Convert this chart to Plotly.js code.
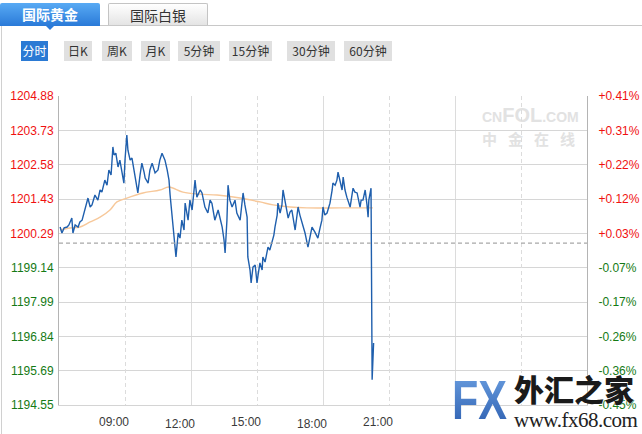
<!DOCTYPE html>
<html><head><meta charset="utf-8">
<script src="https://cdn.plot.ly/plotly-3.0.1.min.js"></script>
<style>
html,body{margin:0;padding:0;background:#fff;}
body{width:642px;height:434px;overflow:hidden;position:relative;font-family:"Noto Sans CJK SC","Liberation Sans",sans-serif;}
#chart{position:absolute;left:0;top:0;width:642px;height:434px;z-index:1;}
.abs{position:absolute;}
#tabline{left:0;top:25px;width:642px;height:1px;background:#c8c8c8;z-index:3;}
#leftborder{left:1px;top:25px;width:1px;height:409px;background:#d0d0d0;z-index:3;}
#tab1{left:0;top:3px;width:100px;height:23px;background:linear-gradient(#58aaf4,#2a7ad8);color:#fff;font-weight:bold;font-size:14px;line-height:22px;text-align:center;border-radius:2px 2px 0 0;z-index:4;}
#tab1arrow{left:46px;top:26px;width:0;height:0;border-left:4px solid transparent;border-right:4px solid transparent;border-top:4px solid #2a7ad8;z-index:4;}
#tab2{left:108px;top:3px;width:98px;height:21px;background:linear-gradient(#ffffff,#e4e4e4);border:1px solid #c4c4c4;border-bottom:none;color:#333;font-size:14px;line-height:22px;text-align:center;border-radius:2px 2px 0 0;z-index:4;}
.btn{top:41px;height:20px;line-height:20px;font-size:12px;text-align:center;background:#e0e0e0;color:#333;z-index:4;}
.btn.on{background:#2b7ad4;color:#fff;}
#wm1{left:482px;top:104px;color:#e2e2e2;font-family:"Liberation Sans",sans-serif;font-weight:bold;white-space:nowrap;z-index:0;}
#wm2{left:482px;top:128px;color:#e2e2e2;font-weight:bold;font-size:15px;letter-spacing:11px;white-space:nowrap;z-index:0;}
#fx{left:452px;top:372px;font-family:"Liberation Sans",sans-serif;font-weight:bold;font-size:56px;line-height:56px;transform:scaleX(0.77);transform-origin:0 0;background:linear-gradient(#6a9ee0,#2d5fb0);-webkit-background-clip:text;background-clip:text;color:transparent;z-index:5;white-space:nowrap;}
#hj{left:514px;top:373px;font-size:30px;line-height:30px;font-weight:900;color:#1a1a1a;z-index:5;white-space:nowrap;text-shadow:0 0 2px #fff;}
#www{left:514px;top:410px;font-family:"Liberation Serif",serif;font-size:21px;line-height:21px;letter-spacing:-0.5px;color:#222;z-index:5;white-space:nowrap;text-shadow:0 0 2px #fff;}
</style></head>
<body>
<div id="wm1" class="abs"><span style="font-size:14px">CN</span><span style="font-size:20px">FOL</span><span style="font-size:14px">.COM</span></div>
<div id="wm2" class="abs">中金在线</div>
<div id="chart"></div>
<div id="tabline" class="abs"></div>
<div id="leftborder" class="abs"></div>
<div id="tab1" class="abs">国际黄金</div>
<div id="tab1arrow" class="abs"></div>
<div id="tab2" class="abs">国际白银</div>
<div class="abs btn on" style="left:21px;width:27px">分时</div>
<div class="abs btn" style="left:64px;width:28px">日K</div>
<div class="abs btn" style="left:102px;width:30px">周K</div>
<div class="abs btn" style="left:141px;width:29px">月K</div>
<div class="abs btn" style="left:178px;width:42px">5分钟</div>
<div class="abs btn" style="left:229px;width:43px">15分钟</div>
<div class="abs btn" style="left:287px;width:48px">30分钟</div>
<div class="abs btn" style="left:344px;width:48px">60分钟</div>
<div id="fx" class="abs">FX</div>
<div id="hj" class="abs">外汇之家</div>
<div id="www" class="abs">www.fx68.com</div>
<script>
// ---- data ----
const times = ['06:03','06:08','06:14','06:22','06:27','06:35','06:38','06:44','06:52','06:57',
'07:03','07:11','07:19','07:25','07:30','07:38','07:46','07:52','07:57','08:05','08:11','08:16','08:22','08:27','08:30','08:35','08:41','08:46','08:52','08:57',
'09:00','09:05','09:08','09:14','09:19','09:22','09:27','09:33','09:35','09:41','09:46','09:52','09:55',
'10:03','10:08','10:14','10:22','10:30','10:35','10:41','10:46','10:49','10:55',
'11:00','11:03','11:08','11:14','11:19','11:22','11:25','11:30','11:35','11:41','11:44','11:52','11:57',
'12:03','12:11','12:16','12:25','12:30','12:38','12:46','12:52','12:57',
'13:05','13:14','13:19','13:25','13:30','13:33','13:38','13:41','13:46','13:52',
'14:00','14:05','14:14','14:22','14:27','14:33','14:35','14:41','14:44','14:49','14:55',
'15:00','15:03','15:08','15:14','15:16','15:22','15:27','15:30','15:35','15:41','15:46','15:49','15:55','15:57',
'16:03','16:08','16:11','16:16','16:25','16:30','16:35','16:44','16:52','16:57',
'17:03','17:11','17:19','17:25','17:30','17:38','17:46','17:52','17:57',
'18:00','18:05','18:11','18:19','18:25','18:27','18:33','18:38','18:41','18:46','18:52','18:55',
'19:00','19:05','19:14','19:19','19:22','19:27','19:33','19:41','19:44','19:49','19:55',
'20:00','20:03','20:05','20:11','20:14','20:16','20:18'];
const prices = [1200.50,1200.30,1200.47,1200.50,1200.57,1200.80,1200.30,1200.57,1200.50,1200.67,
1200.73,1201.07,1201.47,1201.17,1201.24,1201.57,1201.40,1201.74,1201.67,1202.07,1201.90,1202.41,1202.24,1203.18,1202.91,1202.97,1202.51,1202.74,1202.31,1201.97,
1202.74,1203.58,1203.07,1202.74,1202.81,1202.57,1202.24,1201.84,1201.64,1202.24,1202.64,1202.34,1202.14,
1201.97,1202.41,1202.64,1202.31,1202.41,1202.74,1202.97,1202.81,1202.74,1202.41,
1202.07,1201.57,1200.83,1199.97,1199.50,1199.90,1200.30,1200.13,1200.73,1200.40,1201.30,1200.73,1201.40,
1201.07,1202.07,1201.50,1201.74,1201.64,1201.17,1200.97,1201.40,1201.30,
1200.73,1201.07,1200.80,1200.50,1200.07,1199.63,1200.73,1201.90,1201.40,1201.17,
1201.40,1200.97,1200.73,1201.64,1201.24,1200.83,1199.50,1199.06,1198.63,1199.16,1199.23,
1198.63,1198.90,1199.30,1199.06,1199.50,1199.33,1199.63,1199.83,1199.73,1200.00,1200.23,1200.50,1200.90,1201.30,
1200.97,1201.24,1201.74,1201.40,1200.80,1201.00,1201.07,1200.40,1201.17,1200.90,
1200.63,1200.30,1199.83,1200.23,1200.50,1200.33,1200.13,1200.47,1200.73,
1201.17,1200.90,1200.97,1201.30,1201.74,1201.97,1201.90,1202.07,1202.34,1202.07,1201.74,1202.17,
1201.74,1201.50,1201.17,1201.57,1201.80,1201.67,1201.64,1201.17,1201.40,1201.40,1201.74,
1201.24,1200.83,1201.40,1201.80,1195.39,1196.15,1196.62];
const avgTimes = ['06:03','06:30','06:57','07:25','07:52','08:19','08:38','09:05','09:49','10:35','11:00','11:38','12:25','13:11','14:14','15:08','15:44','16:30','17:16','18:46','20:16'];
const avgValues = [1200.40,1200.47,1200.50,1200.67,1200.83,1201.07,1201.34,1201.47,1201.64,1201.74,1201.84,1201.67,1201.60,1201.57,1201.47,1201.34,1201.24,1201.17,1201.14,1201.14,1201.14];
const prevClose = 1199.96;
const priceTicks = [1204.88,1203.73,1202.58,1201.43,1200.29,1199.14,1197.99,1196.84,1195.69,1194.55];
const pctTicks = ['+0.41%','+0.31%','+0.22%','+0.12%','+0.03%','-0.07%','-0.17%','-0.26%','-0.36%','-0.45%'];
const solidGridHours = [12,18,24];
const solidGridLabels = ['12:00','18:00',''];
const dashGridHours = [9,15,21,27];
const dashGridLabels = ['09:00','15:00','21:00',''];
const dayStart = 6, dayEnd = 30;

// ---- build ----
const toH = t => { const [h,m] = t.split(':').map(Number); return h + m/60; };
const RED = '#f01010', GREEN = '#147a14';
const colorFor = v => v >= prevClose ? RED : GREEN;
const leftText = priceTicks.map(v => `<span style="color:${colorFor(v)}">${v.toFixed(2)}</span>`);
const rightText = pctTicks.map(s => `<span style="color:${s[0]==='+'?RED:GREEN}">${s}</span>`);

const traces = [
  {x:[dayStart,dayEnd], y:[prevClose,prevClose], xaxis:'x2', yaxis:'y', mode:'lines',
   line:{color:'#a8a8a8', width:1.2, dash:'4px,3px'}, hoverinfo:'skip'},
  {x:avgTimes.map(toH), y:avgValues, mode:'lines', line:{color:'#f7c89a', width:1.4, shape:'spline'}, hoverinfo:'skip'},
  {x:times.map(toH), y:prices, mode:'lines', line:{color:'#1f5fad', width:1.4}, hoverinfo:'skip'},
  {x:[dayStart], y:[prevClose], yaxis:'y2', mode:'markers', marker:{opacity:0}, hoverinfo:'skip'}
];
const common = {range:[dayStart,dayEnd], zeroline:false, ticks:'', fixedrange:true,
  tickfont:{family:'Liberation Sans, Arial, sans-serif', size:12, color:'#3a3a3a'}};
const yRange = [1194.545, 1204.885];
const layout = {
  width:642, height:434, margin:{l:59, r:55, t:96, b:29, pad:0},
  paper_bgcolor:'rgba(0,0,0,0)', plot_bgcolor:'rgba(0,0,0,0)', showlegend:false,
  xaxis:Object.assign({}, common, {tickmode:'array', tickvals:solidGridHours, ticktext:solidGridLabels,
    showgrid:true, gridcolor:'#dcdcdc', gridwidth:1, showline:true, linecolor:'#d4d4d4',
    ticklabelshift:-11, ticklabelstandoff:8}),
  xaxis2:Object.assign({}, common, {overlaying:'x', anchor:'y', side:'bottom', tickmode:'array',
    tickvals:dashGridHours, ticktext:dashGridLabels, showgrid:true, gridcolor:'#dcdcdc', griddash:'4px,3px',
    showline:false, ticklabelshift:-11, ticklabelstandoff:8}),
  yaxis:{range:yRange, tickmode:'array', tickvals:priceTicks, ticktext:leftText, showgrid:true,
    gridcolor:'#d6d6d6', showline:true, linecolor:'#b4b4b4', zeroline:false, ticks:'', fixedrange:true,
    tickfont:{family:'Liberation Sans, Arial, sans-serif', size:12}, ticklabelstandoff:2},
  yaxis2:{range:yRange, overlaying:'y', side:'right', anchor:'x', tickmode:'array', tickvals:priceTicks, ticktext:rightText,
    showgrid:false, showline:true, linecolor:'#b4b4b4', zeroline:false, ticks:'', fixedrange:true,
    tickfont:{family:'Liberation Sans, Arial, sans-serif', size:12}, ticklabelstandoff:8}
};
Plotly.newPlot('chart', traces, layout, {staticPlot:true, displayModeBar:false});
</script>
</body></html>
